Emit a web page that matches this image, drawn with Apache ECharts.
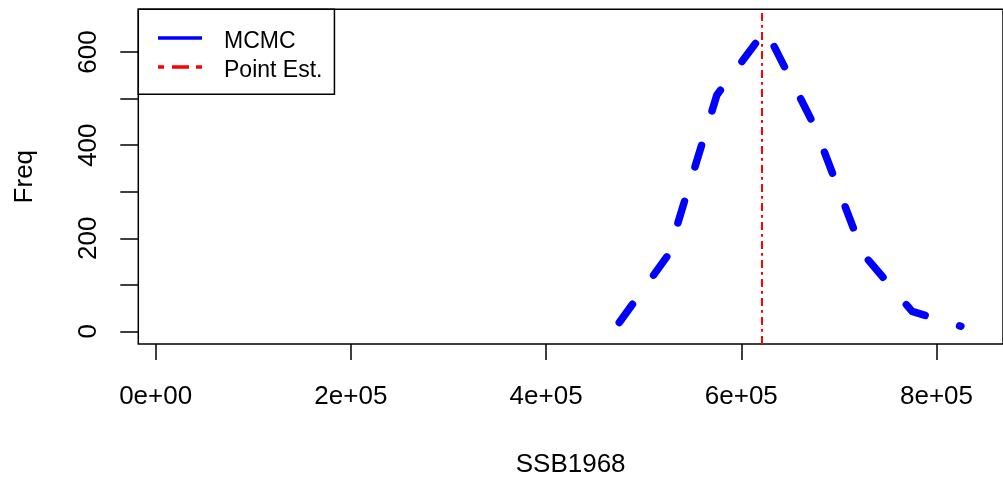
<!DOCTYPE html>
<html>
<head>
<meta charset="utf-8">
<script src="https://cdn.jsdelivr.net/npm/echarts@6/dist/echarts.min.js"></script>
<style>
html,body{margin:0;padding:0;background:#fff;}
#chart{width:1003px;height:483px;}
</style>
</head>
<body>
<div id="chart"></div>
<script>
// ---- data ----
const ssbValues = [475000, 525000, 575000, 625000, 675000, 725000, 775000, 825000];
const freqValues = [19, 164, 508, 648, 441, 166, 43, 11];
const pointEst = 621300;
const xTickValues = [0, 200000, 400000, 600000, 800000];
const xTickLabels = ['0e+00', '2e+05', '4e+05', '6e+05', '8e+05'];
const yTickValues = [0, 100, 200, 300, 400, 500, 600];
const yLabelValues = [0, 200, 400, 600];
const xName = 'SSB1968';
const yName = 'Freq';
const seriesNames = ['MCMC', 'Point Est.'];

const FONT = 'Liberation Sans, Arial, Helvetica, sans-serif';
const chart = echarts.init(document.getElementById('chart'), null, {renderer: 'canvas'});

const lineData = ssbValues.map((x, i) => [x, freqValues[i]]);

// legend key glyphs (44 x 14 box, line drawn near the top of the box)
const BOX = 'M0,0h0.01v0.01z M43.99,13.99h0.01v0.01z ';
const solidKey = 'path://' + BOX + 'M0,1.25h44v3.5h-44z';
const dotDashKey = 'path://' + BOX + 'M0,1.25h6v3.5h-6z M14,1.25h17v3.5h-17z M38,1.25h6v3.5h-6z';

chart.setOption({
  animation: false,
  backgroundColor: '#ffffff',
  grid: {
    left: 138.3, top: 9.3, width: 866, height: 336.7,
    show: true, borderColor: '#000', borderWidth: 1.5, backgroundColor: 'transparent'
  },
  legend: {
    orient: 'vertical',
    left: 138.3, top: 9.3,
    padding: [21.3, 12, 11.7, 19.7],
    itemWidth: 44, itemHeight: 14, itemGap: 6,
    borderColor: '#000', borderWidth: 1.5, borderRadius: 0,
    backgroundColor: '#fff',
    selectedMode: false,
    textStyle: {fontFamily: FONT, fontSize: 23, color: '#000', lineHeight: 23, padding: [0, 0, 0, 17]},
    data: [
      {name: seriesNames[0], icon: solidKey, itemStyle: {color: '#0000FF', borderWidth: 0}},
      {name: seriesNames[1], icon: dotDashKey, itemStyle: {color: '#FF0000', borderWidth: 0}}
    ]
  },
  xAxis: {
    type: 'value',
    min: -17800, max: 868130,
    name: xName, nameLocation: 'middle', nameGap: 108,
    nameTextStyle: {fontFamily: FONT, fontSize: 26, color: '#000'},
    axisLine: {show: false, onZero: false},
    axisTick: {show: true, inside: false, customValues: xTickValues, length: 16, lineStyle: {color: '#000', width: 1.5}},
    axisLabel: {
      customValues: xTickValues, margin: 40,
      fontFamily: FONT, fontSize: 26, color: '#000',
      formatter: v => xTickLabels[xTickValues.indexOf(v)]
    },
    splitLine: {show: false}
  },
  yAxis: {
    type: 'value',
    min: -27.1, max: 691.9,
    name: yName, nameLocation: 'middle', nameGap: 100,
    nameTextStyle: {fontFamily: FONT, fontSize: 26, color: '#000'},
    axisLine: {show: false, onZero: false},
    axisTick: {show: true, inside: false, customValues: yTickValues, length: 18, lineStyle: {color: '#000', width: 1.5}},
    axisLabel: {
      customValues: yLabelValues, rotate: 90, margin: 36,
      fontFamily: FONT, fontSize: 26, color: '#000',
      formatter: v => String(v)
    },
    splitLine: {show: false}
  },
  series: [
    {
      name: seriesNames[0], type: 'line', data: lineData,
      symbol: 'none', silent: true,
      lineStyle: {color: '#0000FF', width: 7.5, type: [22.5, 36], cap: 'round', join: 'round'},
      emphasis: {disabled: true}
    },
    {
      name: seriesNames[1], type: 'line', data: [],
      symbol: 'none', silent: true,
      itemStyle: {color: '#FF0000'},
      lineStyle: {color: '#FF0000', width: 2, type: [8, 4.3, 2.7, 4]},
      markLine: {
        silent: true, symbol: ['none', 'none'], animation: false,
        label: {show: false},
        lineStyle: {color: '#FF0000', width: 2, type: [8, 4.3, 2.7, 4]},
        emphasis: {disabled: true},
        data: [{xAxis: pointEst}]
      }
    }
  ]
});
</script>
</body>
</html>
